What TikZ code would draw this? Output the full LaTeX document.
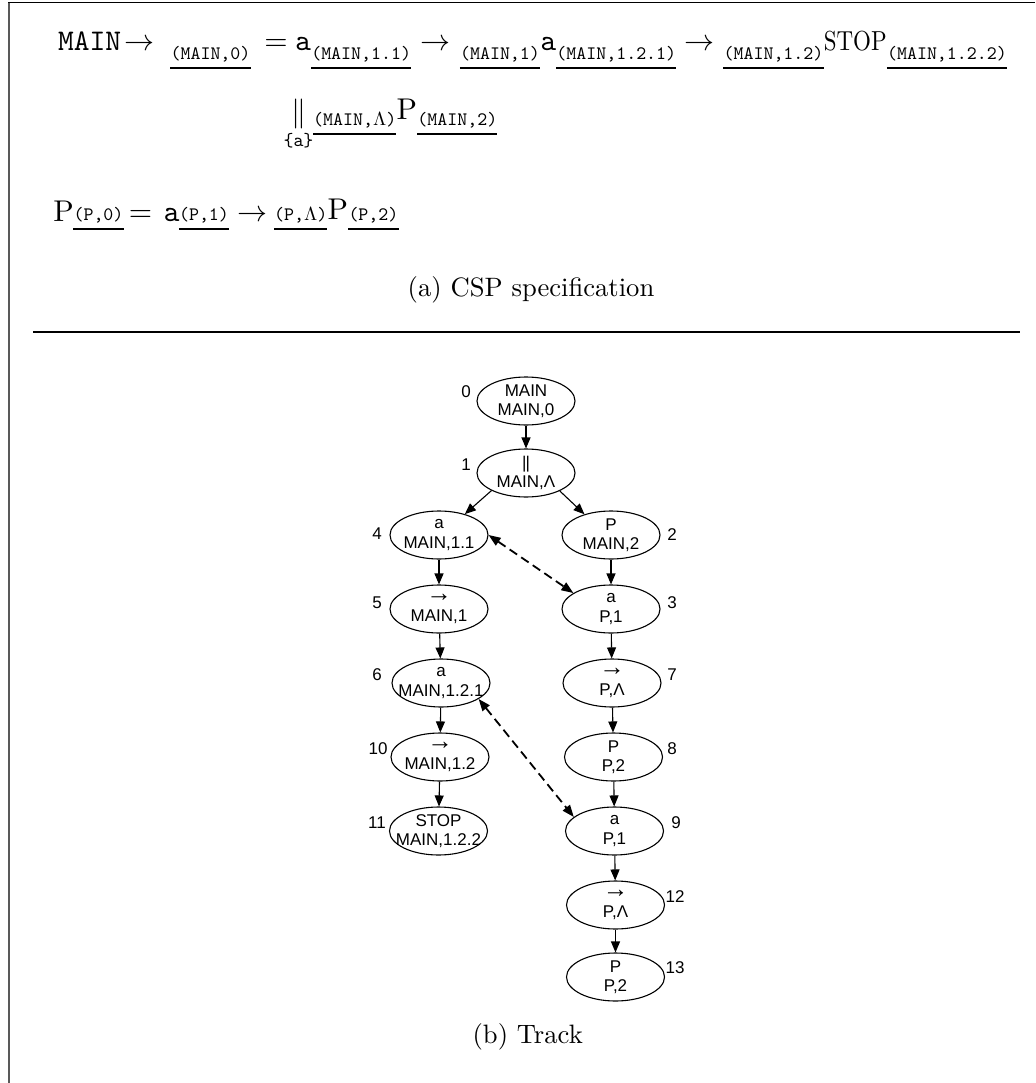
\documentclass[tikz,border=0pt]{standalone}
\usepackage[no-math]{fontspec}
\usepackage{graphicx}
\usepackage{amsmath}
\usetikzlibrary{shapes.geometric,arrows.meta}
\newfontfamily\graphfont{Liberation Sans}
\newcommand\gf{\graphfont\fontsize{17}{19.5}\selectfont}
\newcommand\garrow{\scalebox{1.5}{→}}
% pieces of the CSP specification
\newcommand\mbig[1]{\scalebox{3}{$#1$}}
\newcommand\msub[1]{\scalebox{1.9}{\ttfamily #1}}
\begin{document}
\begin{tikzpicture}[x=1pt,y=-1pt,
  pc/.style={anchor=base, inner sep=0pt},
  nx/.style={anchor=base west, inner sep=0pt},
  ul/.style={line width=1.3pt},
  st/.style={ellipse, draw, line width=1.1pt, minimum width=98pt, minimum height=48pt,
    inner sep=-30pt, align=center, font=\gf},
  num/.style={font=\gf, inner sep=0pt},
  ed/.style={-{Triangle[length=11pt,width=9pt]}, line width=1.1pt},
  link/.style={{Triangle[length=12pt,width=9pt]}-{Triangle[length=12pt,width=9pt]},
    line width=1.8pt, dash pattern=on 9pt off 5pt}]
\useasboundingbox (0,0) rectangle (1035,1083);
\fill[white] (0,0) rectangle (1035,1083);
% frame and separator
\draw[line width=1.2pt] (8,2.7) -- (1035,2.7);
\draw[line width=2pt, black!65] (8.8,2.7) -- (8.8,1083);
\draw[line width=1.4pt] (33,332) -- (1020,332);

% ---- (a) CSP specification, first line
\node[pc] (m1) at (89.5,51) {\mbig{\mathtt{MAIN}}};
\node[pc] (r1) at (139,51) {\mbig{\rightarrow}};
\node[pc] (s1) at (210.5,60) {\msub{(MAIN,0)}};
\node[pc] (e1) at (276,51) {\mbig{=}};
\node[pc] (a1) at (303,51) {\mbig{\mathtt{a}}};
\node[nx, yshift=-9pt] (s2) at (a1.base east) {\msub{(MAIN,1.1)}};
\node[pc] (r2) at (435,51) {\mbig{\rightarrow}};
\node[pc] (s3) at (500,60) {\msub{(MAIN,1)}};
\node[nx, yshift=9pt] (a2) at (s3.base east) {\mbig{\mathtt{a}}};
\node[nx, yshift=-9pt] (s4) at (a2.base east) {\msub{(MAIN,1.2.1)}};
\node[pc] (r3) at (699.5,51) {\mbig{\rightarrow}};
\node[pc] (s5) at (773.5,60) {\msub{(MAIN,1.2)}};
\node[nx, yshift=9pt] (stop) at (s5.base east) {\scalebox{2.3}[2.75]{$\mathrm{STOP}$}};
\node[nx, yshift=-9pt] (s6) at (stop.base east) {\msub{(MAIN,1.2.2)}};
\foreach \s in {s1,s2,s3,s4,s5,s6}
  \draw[ul] ([yshift=-8pt]\s.base west) -- ([yshift=-8pt]\s.base east);

% second line
\node[pc] (par) at (298.5,122) {\mbig{\|}};
\node[pc] (sync) at (298.5,147) {\msub{\{a\}}};
\node[nx] (s7) at (313,126) {\msub{(MAIN,$\Lambda$)}};
\node[nx, yshift=6pt] (p1) at (s7.base east) {\mbig{\mathrm{P}}};
\node[nx, yshift=-6pt] (s8) at (p1.base east) {\msub{(MAIN,2)}};
\foreach \s in {s7,s8}
  \draw[ul] ([yshift=-8pt]\s.base west) -- ([yshift=-8pt]\s.base east);

% third line
\node[pc] (p2) at (63.5,222) {\mbig{\mathrm{P}}};
\node[pc] (s9) at (98.5,221) {\msub{(P,0)}};
\node[pc] (e2) at (140.5,222) {\mbig{=}};
\node[pc] (a3) at (171.5,222) {\mbig{\mathtt{a}}};
\node[pc] (s10) at (204,221) {\msub{(P,1)}};
\node[pc] (r4) at (252,222) {\mbig{\rightarrow}};
\node[nx] (s11) at (274,221) {\msub{(P,$\Lambda$)}};
\node[nx, yshift=1pt] (p3) at (s11.base east) {\mbig{\mathrm{P}}};
\node[nx, yshift=-1pt] (s12) at (p3.base east) {\msub{(P,2)}};
\foreach \s in {s9,s10,s11,s12}
  \draw[ul] ([yshift=-8pt]\s.base west) -- ([yshift=-8pt]\s.base east);

\node[anchor=base, inner sep=0pt] (capa) at (531,296) {\scalebox{2.66}{(a)~CSP specification}};

% ---- (b) Track
\node[st] (n0) at (526,401) {MAIN\\MAIN,0};
\node[st] (n1) at (526,473) {|\kern-1pt|\\MAIN,Λ};
\node[st] (n4) at (439,535) {a\\MAIN,1.1};
\node[st] (n2) at (611,535) {P\\MAIN,2};
\node[st] (n5) at (439,609) {\garrow\\MAIN,1};
\node[st] (n3) at (611,609) {a\\P,1};
\node[st] (n6) at (441,683) {a\\MAIN,1.2.1};
\node[st] (n7) at (612,683) {\garrow\\P,Λ};
\node[st] (n10) at (440,757) {\garrow\\MAIN,1.2};
\node[st] (n8) at (613.5,757) {P\\P,2};
\node[st] (n11) at (438.5,831) {STOP\\MAIN,1.2.2};
\node[st] (n9) at (614.5,831) {a\\P,1};
\node[st] (n12) at (615.5,905) {\garrow\\P,Λ};
\node[st] (n13) at (615.5,977) {P\\P,2};

\node[num] (l0) at (466,392) {0};
\node[num] (l1) at (466,465) {1};
\node[num] (l4) at (377,534) {4};
\node[num] (l2) at (672,535) {2};
\node[num] (l5) at (377,603) {5};
\node[num] (l3) at (672,603) {3};
\node[num] (l6) at (377,675) {6};
\node[num] (l7) at (672,675) {7};
\node[num] (l10) at (378,749) {10};
\node[num] (l8) at (672,749) {8};
\node[num] (l11) at (377,823) {11};
\node[num] (l9) at (676,823) {9};
\node[num] (l12) at (675,897) {12};
\node[num] (l13) at (675,968) {13};

\draw[ed] (n0) -- (n1);
\draw[ed] (n1.207) -- (n4.39);
\draw[ed] (n1.-28) -- (n2.142);
\draw[ed] (n4) -- (n5);
\draw[ed] (n2) -- (n3);
\draw[ed] (n5) -- (n6);
\draw[ed] (n3) -- (n7);
\draw[ed] (n6) -- (n10);
\draw[ed] (n7) -- (n8);
\draw[ed] (n10) -- (n11);
\draw[ed] (n8) -- (n9);
\draw[ed] (n9) -- (n12);
\draw[ed] (n12) -- (n13);
\draw[link] (n4.east) -- (n3.157);
\draw[link] (n6.-23) -- (n9.161);

\node[anchor=base east, inner sep=0pt] (capb) at (583,1043) {\scalebox{2.66}{(b)~Track}};
\end{tikzpicture}
\end{document}
